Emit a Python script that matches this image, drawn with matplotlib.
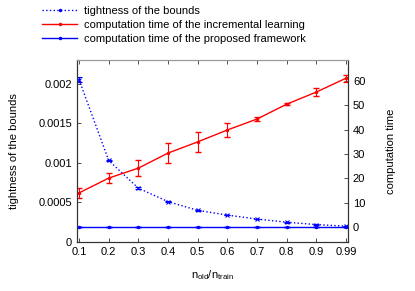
import numpy as np
import matplotlib
matplotlib.use('Agg')
import matplotlib.pyplot as plt
from matplotlib.lines import Line2D

plt.rcParams['font.family'] = ['Liberation Sans', 'DejaVu Sans']
plt.rcParams['font.size'] = 8
plt.rcParams['mathtext.default'] = 'regular'

# datos
ratios = ['0.1', '0.2', '0.3', '0.4', '0.5', '0.6', '0.7', '0.8', '0.9', '0.99']
tightness = [0.00205, 0.00103, 0.00068, 0.00051, 0.00040, 0.00034, 0.00029, 0.00025, 0.00022, 0.00020]
tightness_err = [0.00003, 0.00001, 0.00001, 0.000005, 0.000005, 0.000005, 0.000004, 0.000004, 0.000004, 0.000004]
time_incr = [14.0, 20.1, 24.2, 30.4, 35.0, 39.9, 44.4, 50.5, 55.5, 61.2]
time_incr_err = [2.0, 2.0, 3.4, 4.2, 4.0, 2.9, 1.0, 0.4, 1.5, 1.5]
time_prop = [0.05, 0.05, 0.05, 0.05, 0.05, 0.05, 0.05, 0.05, 0.05, 0.05]
time_prop_err = [0.05, 0.05, 0.05, 0.05, 0.05, 0.05, 0.05, 0.05, 0.05, 0.05]
labels = ['tightness of the bounds',
          'computation time of the incremental learning',
          'computation time of the proposed framework']

x = np.arange(len(ratios))

fig = plt.figure(figsize=(4.15, 2.91), dpi=100)
ax = fig.add_axes([0.1855, 0.1684, 0.6531, 0.6254])
ax2 = ax.twinx()

ax.errorbar(x, tightness, yerr=tightness_err, color='blue', ls=':', lw=1,
            marker='x', ms=3, mew=0.8, capsize=2, elinewidth=0.8)
ax2.errorbar(x, time_incr, yerr=time_incr_err, color='red', ls='-', lw=1,
             marker='.', ms=3, capsize=2, elinewidth=0.8)
ax2.errorbar(x, time_prop, yerr=time_prop_err, color='blue', ls='-', lw=1,
             marker='.', ms=3, capsize=2, elinewidth=0.8)

ax.set_xlim(-0.07, 9.07)
ax.set_ylim(0, 0.0023)
ax2.set_ylim(-6.2, 68.7)

ax.set_xticks(x)
ax.set_xticklabels(ratios)
ax.set_yticks([0, 0.0005, 0.001, 0.0015, 0.002])
ax.set_yticklabels(['0', '0.0005', '0.001', '0.0015', '0.002'])
ax2.set_yticks([0, 10, 20, 30, 40, 50, 60])

ax.tick_params(direction='in', top=True, length=3, width=0.6, color='#333333')
ax2.tick_params(direction='in', length=3, width=0.6, color='#333333')
for a in (ax, ax2):
    for s in a.spines.values():
        s.set_linewidth(0.8)
        s.set_color('#333333')
ax.spines['top'].set_color('#999999')
ax2.spines['top'].set_color('#999999')

ax.set_xlabel('n$_{old}$/n$_{train}$', labelpad=8)
ax.set_ylabel('tightness of the bounds', labelpad=14)
ax2.set_ylabel('computation time', labelpad=15)

handles = [Line2D([], [], color='blue', ls=':', lw=1, marker='.', ms=3),
           Line2D([], [], color='red', ls='-', lw=1, marker='.', ms=3),
           Line2D([], [], color='blue', ls='-', lw=1, marker='.', ms=3)]
fig.legend(handles=handles, labels=labels, loc='upper left',
           bbox_to_anchor=(0.09, 0.995), frameon=False, handlelength=3.2,
           handletextpad=0.6, labelspacing=0.35, borderaxespad=0)

fig.savefig('out.png', dpi=100)
